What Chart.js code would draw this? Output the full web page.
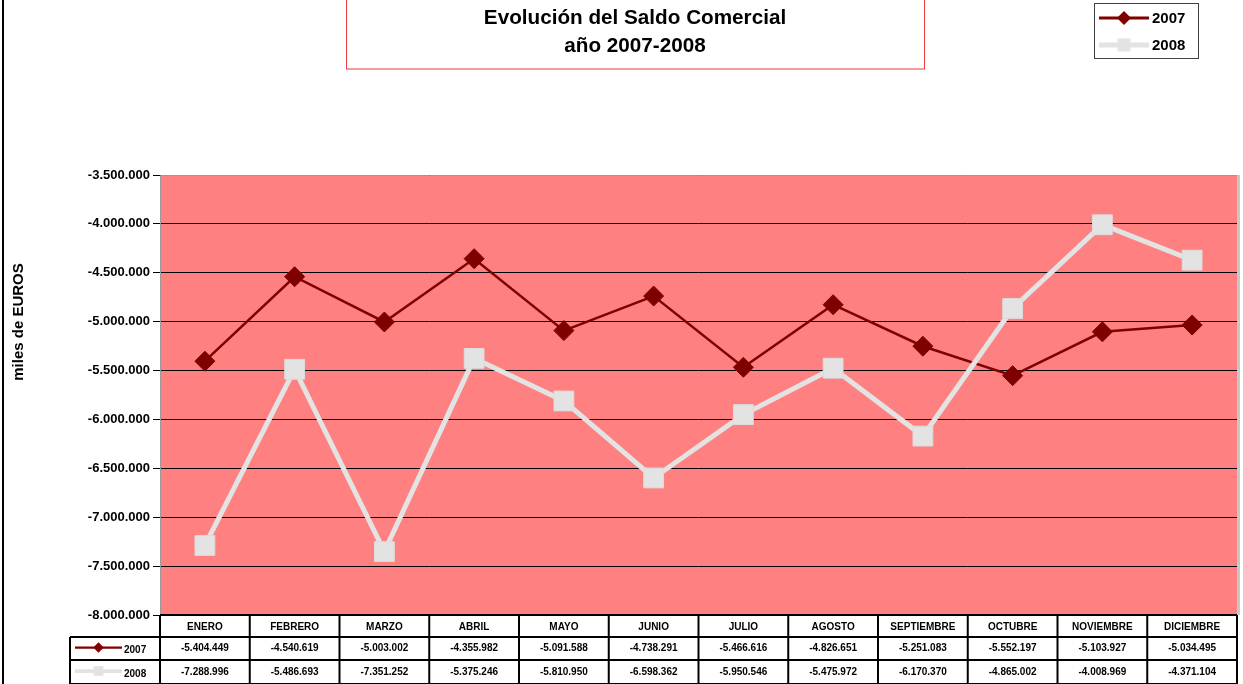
<!DOCTYPE html>
<html>
<head>
<meta charset="utf-8">
<script src="https://cdn.jsdelivr.net/npm/chart.js@4.4.1/dist/chart.umd.min.js"></script>
<style>
  html, body { margin: 0; padding: 0; background: #fff; }
  #wrap { width: 1243px; height: 684px; }
</style>
</head>
<body>
<div id="wrap"><canvas id="saldoChart" width="1243" height="684"></canvas></div>
<script>
const months = ['ENERO', 'FEBRERO', 'MARZO', 'ABRIL', 'MAYO', 'JUNIO', 'JULIO',
    'AGOSTO', 'SEPTIEMBRE', 'OCTUBRE', 'NOVIEMBRE', 'DICIEMBRE'];
const saldo2007 = [-5404449, -4540619, -5003002, -4355982, -5091588, -4738291,
    -5466616, -4826651, -5251083, -5552197, -5103927, -5034495];
const saldo2008 = [-7288996, -5486693, -7351252, -5375246, -5810950, -6598362,
    -5950546, -5475972, -6170370, -4865002, -4008969, -4371104];
const seriesNames = ['2007', '2008'];
const titleLines = ['Evolución del Saldo Comercial', 'año 2007-2008'];
const yTitle = 'miles de EUROS';

const FONT = '"Liberation Sans", Arial, sans-serif';
const colors = {
    s2007: '#800000',
    s2008: '#E3E3E3',
    plot: '#FF8080',
    grid: '#000000',
    titleBox: '#EE3B3B'
};

// 1234567 -> "1.234.567" (Spanish style)
function fmt(v) {
    const s = Math.abs(Math.round(v)).toString().replace(/\B(?=(\d{3})+(?!\d))/g, '.');
    return (v < 0 ? '-' : '') + s;
}

function drawDiamond(ctx, x, y, r, color) {
    ctx.beginPath();
    ctx.moveTo(x, y - r);
    ctx.lineTo(x + r, y);
    ctx.lineTo(x, y + r);
    ctx.lineTo(x - r, y);
    ctx.closePath();
    ctx.fillStyle = color;
    ctx.fill();
}

function drawSample(ctx, x1, x2, y, idx, scale) {
    ctx.save();
    ctx.beginPath();
    ctx.moveTo(x1, y);
    ctx.lineTo(x2, y);
    if (idx === 0) {
        ctx.strokeStyle = colors.s2007;
        ctx.lineWidth = 3 * scale;
        ctx.stroke();
        drawDiamond(ctx, (x1 + x2) / 2, y, 7 * scale, colors.s2007);
    } else {
        ctx.strokeStyle = colors.s2008;
        ctx.lineWidth = 5 * scale;
        ctx.stroke();
        const s = 13 * scale;
        ctx.fillStyle = colors.s2008;
        ctx.fillRect((x1 + x2) / 2 - s / 2, y - s / 2, s, s);
    }
    ctx.restore();
}

const decoPlugin = {
    id: 'deco',
    beforeDraw(chart) {
        const { ctx, chartArea: a } = chart;
        ctx.save();
        ctx.fillStyle = '#fff';
        ctx.fillRect(0, 0, chart.width, chart.height);
        ctx.fillStyle = colors.plot;
        ctx.fillRect(a.left, a.top, a.right - a.left, a.bottom - a.top);
        ctx.restore();
    },
    afterDraw(chart) {
        const { ctx, chartArea: a } = chart;
        const xs = chart.scales.x;
        ctx.save();

        // plot area border + shadow on the right
        ctx.strokeStyle = '#9a9a9a';
        ctx.lineWidth = 1;
        ctx.beginPath();
        ctx.moveTo(a.left + 0.5, a.bottom);
        ctx.lineTo(a.left + 0.5, a.top + 0.5);
        ctx.lineTo(a.right, a.top + 0.5);
        ctx.stroke();
        ctx.fillStyle = '#c8c8c8';
        ctx.fillRect(a.right, a.top, 3, a.bottom - a.top);

        // chart frame on the left edge
        ctx.fillStyle = '#000';
        ctx.fillRect(2, 0, 2, chart.height);

        // data table
        const half = (xs.getPixelForValue(1) - xs.getPixelForValue(0)) / 2;
        const rowY = [a.bottom, a.bottom + 22, a.bottom + 45, a.bottom + 69];
        const legLeft = 70;
        ctx.strokeStyle = '#000';
        ctx.lineWidth = 2;
        ctx.beginPath();
        ctx.moveTo(a.left, rowY[0]);
        ctx.lineTo(a.right, rowY[0]);
        for (let r = 1; r < 4; r++) {
            ctx.moveTo(legLeft, rowY[r]);
            ctx.lineTo(a.right, rowY[r]);
        }
        for (let i = 0; i <= months.length; i++) {
            const x = xs.getPixelForValue(i) - half;
            ctx.moveTo(x, rowY[0]);
            ctx.lineTo(x, rowY[3]);
        }
        ctx.moveTo(legLeft, rowY[1]);
        ctx.lineTo(legLeft, rowY[3]);
        ctx.stroke();

        ctx.fillStyle = '#000';
        ctx.font = 'bold 10px ' + FONT;
        ctx.textAlign = 'center';
        ctx.textBaseline = 'middle';
        months.forEach((m, i) => {
            const cx = xs.getPixelForValue(i);
            ctx.fillText(m, cx, (rowY[0] + rowY[1]) / 2 + 1);
            ctx.fillText(fmt(saldo2007[i]), cx, (rowY[1] + rowY[2]) / 2);
            ctx.fillText(fmt(saldo2008[i]), cx, (rowY[2] + rowY[3]) / 2);
        });

        // legend keys inside the table
        [0, 1].forEach(k => {
            const cy = (rowY[k + 1] + rowY[k + 2]) / 2;
            drawSample(ctx, 75, 122, cy - 1, k, 0.75);
            ctx.fillStyle = '#000';
            ctx.textAlign = 'left';
            ctx.font = 'bold 10px ' + FONT;
            ctx.fillText(seriesNames[k], 124, cy + 2);
        });

        // y axis title
        ctx.save();
        ctx.translate(19, 322);
        ctx.rotate(-Math.PI / 2);
        ctx.font = 'bold 15px ' + FONT;
        ctx.textAlign = 'center';
        ctx.textBaseline = 'middle';
        ctx.fillText(yTitle, 0, 0);
        ctx.restore();

        // title box
        ctx.strokeStyle = colors.titleBox;
        ctx.lineWidth = 1;
        ctx.strokeRect(346.5, -1, 578, 70);
        ctx.fillStyle = '#000';
        ctx.font = 'bold 20.7px ' + FONT;
        ctx.textAlign = 'center';
        ctx.textBaseline = 'middle';
        ctx.fillText(titleLines[0], 635, 18);
        ctx.fillText(titleLines[1], 635, 46);

        // legend box
        ctx.strokeStyle = '#404040';
        ctx.strokeRect(1094.5, 3.5, 104, 55);
        [0, 1].forEach(k => {
            const cy = k === 0 ? 18 : 45;
            drawSample(ctx, 1099, 1149, cy, k, 1);
            ctx.fillStyle = '#000';
            ctx.font = 'bold 15px ' + FONT;
            ctx.textAlign = 'left';
            ctx.textBaseline = 'middle';
            ctx.fillText(seriesNames[k], 1152, cy + 1);
        });

        ctx.restore();
    }
};

const chart = new Chart(document.getElementById('saldoChart').getContext('2d'), {
    type: 'line',
    data: {
        labels: months,
        datasets: [{
            label: seriesNames[0],
            data: saldo2007,
            order: 1,
            borderColor: colors.s2007,
            borderWidth: 2.5,
            pointStyle: 'rectRot',
            pointRadius: 10,
            pointBackgroundColor: colors.s2007,
            pointBorderColor: colors.s2007,
            pointBorderWidth: 1,
            tension: 0
        }, {
            label: seriesNames[1],
            data: saldo2008,
            order: 0,
            borderColor: colors.s2008,
            borderWidth: 5,
            pointStyle: 'rect',
            pointRadius: 14,
            pointBackgroundColor: colors.s2008,
            pointBorderColor: '#dcdcdc',
            pointBorderWidth: 1,
            tension: 0
        }]
    },
    options: {
        responsive: false,
        animation: false,
        devicePixelRatio: 1,
        layout: { autoPadding: false, padding: { top: 175, bottom: 69, right: 6, left: 0 } },
        plugins: {
            legend: { display: false },
            title: { display: false },
            tooltip: { enabled: false }
        },
        scales: {
            x: { display: false, offset: true },
            y: {
                min: -8000000,
                max: -3500000,
                border: { display: false },
                grid: { color: colors.grid, lineWidth: 1, tickLength: 7 },
                ticks: {
                    stepSize: 500000,
                    padding: 3,
                    color: '#000',
                    font: { family: FONT, size: 13, weight: 'bold' },
                    callback: v => fmt(v)
                },
                afterFit(scale) { scale.width = 160; }
            }
        }
    },
    plugins: [decoPlugin]
});
</script>
</body>
</html>
